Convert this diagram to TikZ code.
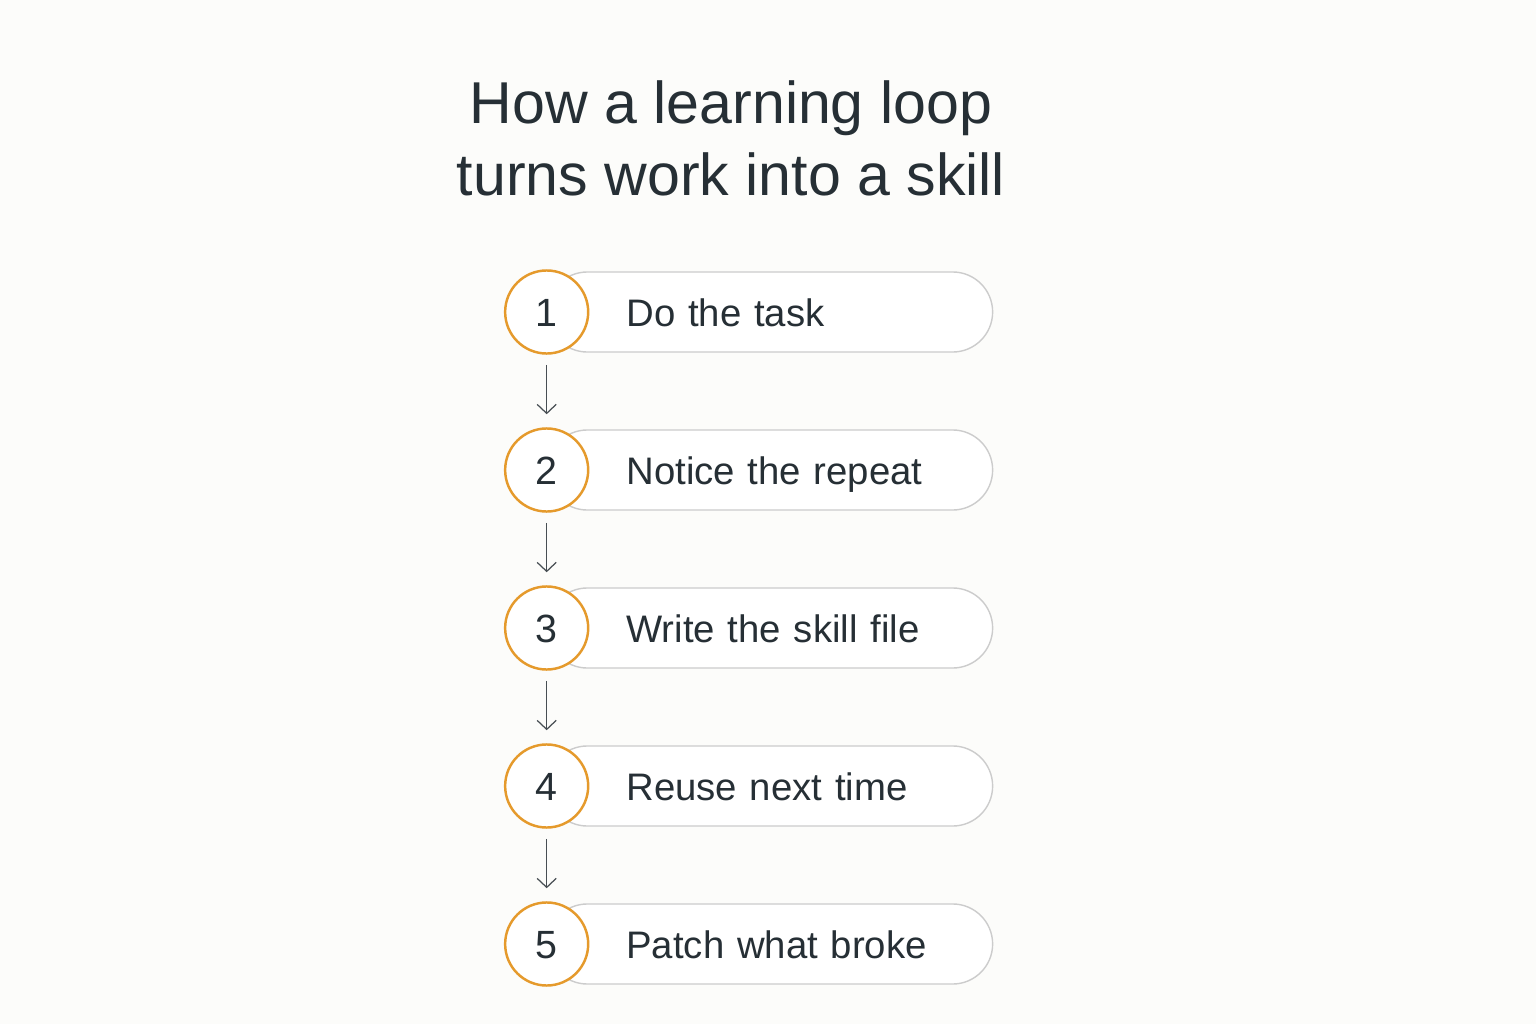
\documentclass[tikz,border=0pt]{standalone}
\usepackage{fontspec}
\setmainfont{Liberation Sans}
\usepackage{xcolor}
\usepackage{tikz}
\usetikzlibrary{arrows.meta, positioning, calc}

\definecolor{pagebg}{HTML}{FCFCFA}
\definecolor{inkdark}{HTML}{262F35}
\definecolor{ringorange}{HTML}{E59A2C}
\definecolor{pillgray}{HTML}{CCCCCC}

\begin{document}
\begin{tikzpicture}[
    x=0.01cm, y=-0.01cm,
    node distance=0.765cm,
    every node/.style={text=inkdark},
    title/.style={font=\fontsize{16.8}{20.5}\selectfont, align=center},
    pill/.style={rectangle, draw=pillgray, line width=0.4pt, fill=white,
        rounded corners=0.4cm, minimum width=4.45cm, minimum height=0.8cm,
        text width=3.67cm, inner xsep=0.39cm, align=left,
        execute at begin node={\hspace*{0.4cm}},
        text height=0.285cm, text depth=0pt, font=\fontsize{10.9}{13}\selectfont},
    num/.style={circle, draw=ringorange, line width=0.7pt, fill=white,
        minimum size=0.83cm, inner sep=0pt,
        text height=0.285cm, text depth=0pt, font=\fontsize{11.2}{13}\selectfont},
    arrow/.style={-{Straight Barb[length=0.09cm, width=0.19cm]}, draw=inkdark!85,
        line width=0.35pt, shorten <=0.1cm, shorten >=0.13cm}
]
    % page
    \useasboundingbox[fill=pagebg] (0,0) rectangle (1536,1024);

    \node[title] (heading) at (731,138) {How a learning loop\\turns work into a skill};

    \node[pill] (p1) at (770,312) {Do the task};
    \node[pill, below=of p1] (p2) {Notice the repeat};
    \node[pill, below=of p2] (p3) {Write the skill file};
    \node[pill, below=of p3] (p4) {Reuse next time};
    \node[pill, below=of p4] (p5) {Patch what broke};

    \node[num] (n1) at (p1.west) {1};
    \node[num] (n2) at (p2.west) {2};
    \node[num] (n3) at (p3.west) {3};
    \node[num] (n4) at (p4.west) {4};
    \node[num] (n5) at (p5.west) {5};

    \draw[arrow] (n1) -- (n2);
    \draw[arrow] (n2) -- (n3);
    \draw[arrow] (n3) -- (n4);
    \draw[arrow] (n4) -- (n5);
\end{tikzpicture}
\end{document}
